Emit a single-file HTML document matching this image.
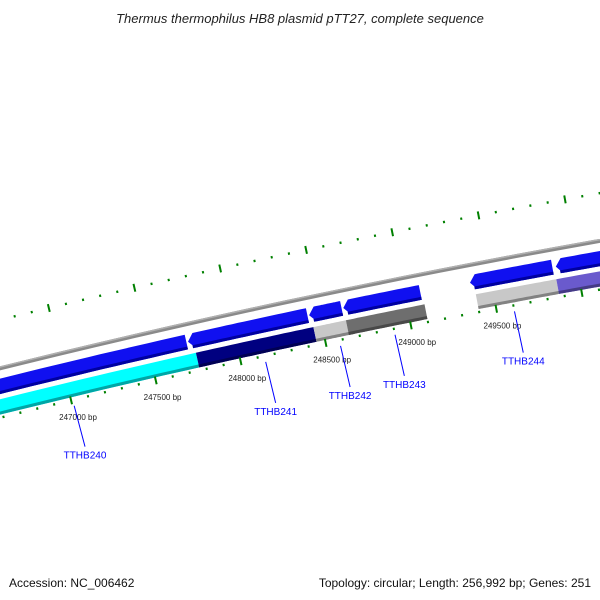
<!DOCTYPE html>
<html><head><meta charset="utf-8"><style>
html,body{margin:0;padding:0;background:#fff}
svg{display:block}
text{font-family:"Liberation Sans","DejaVu Sans",sans-serif}
</style></head><body>
<svg id="c" width="600" height="600" viewBox="0 0 600 600">
<text x="300" y="23" text-anchor="middle" font-size="13" font-style="italic" fill="#222">Thermus thermophilus HB8 plasmid pTT27, complete sequence</text>
<text x="9" y="587" font-size="12" fill="#111">Accession: NC_006462</text>
<text x="591" y="587" text-anchor="end" font-size="12" fill="#111">Topology: circular; Length: 256,992 bp; Genes: 251</text>
<g id="g"></g>
</svg>
<script>
// data
const tickStart = 246400, tickEnd = 250800, tickStep = 100;
const majorLabels = [247000, 247500, 248000, 248500, 249000, 249500];
const geneNames = ["TTHB240","TTHB241","TTHB242","TTHB243","TTHB244"];
const geneLabelBp = [247010, 248140, 248580, 248900, 249600];
const innerStarts = [246300, 247760, 248450, 248640, 249400, 249870];
const innerEnds   = [247760, 248450, 248640, 249100, 249870, 250700];
const innerColors = ["#00ffff","#000080","#c8c8c8","#6e6e6e","#c8c8c8","#6a5acd"];
const outerStarts = [246300, 247730, 248440, 248640, 249380, 249880];
const outerEnds   = [247720, 248430, 248630, 249090, 249860, 250700];

// geometry
const R = 9000, cx = 2179, cy = 9150;
const phi0 = Math.atan2(400 - cy, 71 - cx);
const k = 0.174 / R;
function pt(bp, off){const a=phi0+(bp-247000)*k, r=R+off;return [cx+r*Math.cos(a), cy+r*Math.sin(a)];}
const NS="http://www.w3.org/2000/svg", G=document.getElementById('g');
function mk(t,attrs){const e=document.createElementNS(NS,t);for(const a in attrs)e.setAttribute(a,attrs[a]);G.appendChild(e);return e;}
function band(b0,b1,o0,o1,tip){
  const p=[];const n=20;
  const s0 = tip? b0+35 : b0;
  for(let i=0;i<=n;i++){p.push(pt(s0+(b1-s0)*i/n,o1));}
  for(let i=n;i>=0;i--){p.push(pt(s0+(b1-s0)*i/n,o0));}
  if(tip){p.push(pt(b0,(o0+o1)/2));}
  return p.map(q=>q[0].toFixed(1)+','+q[1].toFixed(1)).join(' ');
}
function shade(c,f){const n=parseInt(c.slice(1),16);let r=(n>>16)&255,g=(n>>8)&255,b=n&255;r=Math.round(r*f);g=Math.round(g*f);b=Math.round(b*f);return `rgb(${r},${g},${b})`;}

// backbone
let e=mk('polygon',{points:band(246300,250800,46,50,false),fill:'#8a8a8a'});


mk('polygon',{points:band(246300,250800,48.5,50,false),fill:'#b0b0b0'});

// inner genes
for(let i=0;i<innerStarts.length;i++){
  e=mk('polygon',{points:band(innerStarts[i],innerEnds[i],3,18,false),fill:innerColors[i]});
  
  
  mk('polygon',{points:band(innerStarts[i],innerEnds[i],3,6,false),fill:shade(innerColors[i],0.65)});
}
// outer genes (arrows)
for(let i=0;i<outerStarts.length;i++){
  e=mk('polygon',{points:band(outerStarts[i],outerEnds[i],23,38,i>0),fill:'#1010f0'});
  
  
  mk('polygon',{points:band(outerStarts[i]+(i>0?20:0),outerEnds[i],23,26,false),fill:'#0000a0'});
}
// ticks
for(let bp=tickStart;bp<=tickEnd;bp+=tickStep){
  const major=bp%500===0;
  for(const base of [0,95]){
    const h=major?4:1.2;
    const a=pt(bp,base-h),b=pt(bp,base+h);
    e=mk('line',{x1:a[0],y1:a[1],x2:b[0],y2:b[1],stroke:'#008000','stroke-width':2});
    
    
  }
}
for(const bp of majorLabels){
  const p=pt(bp,-17);
  e=mk('text',{x:p[0]+3,y:p[1]+3,'text-anchor':'middle','font-size':8,fill:'#222'});
  e.textContent=bp+' bp';
  
  
}
// gene labels
for(let i=0;i<geneNames.length;i++){
  const a=pt(geneLabelBp[i],-6),b=pt(geneLabelBp[i],-48);
  e=mk('line',{x1:a[0],y1:a[1],x2:b[0]+1,y2:b[1],stroke:'#0000ff','stroke-width':1});
  
  
  e=mk('text',{x:b[0]+1,y:b[1]+12,'text-anchor':'middle','font-size':10,fill:'#0000ff'});
  e.textContent=geneNames[i];
  
  
}
</script>
</body></html>
